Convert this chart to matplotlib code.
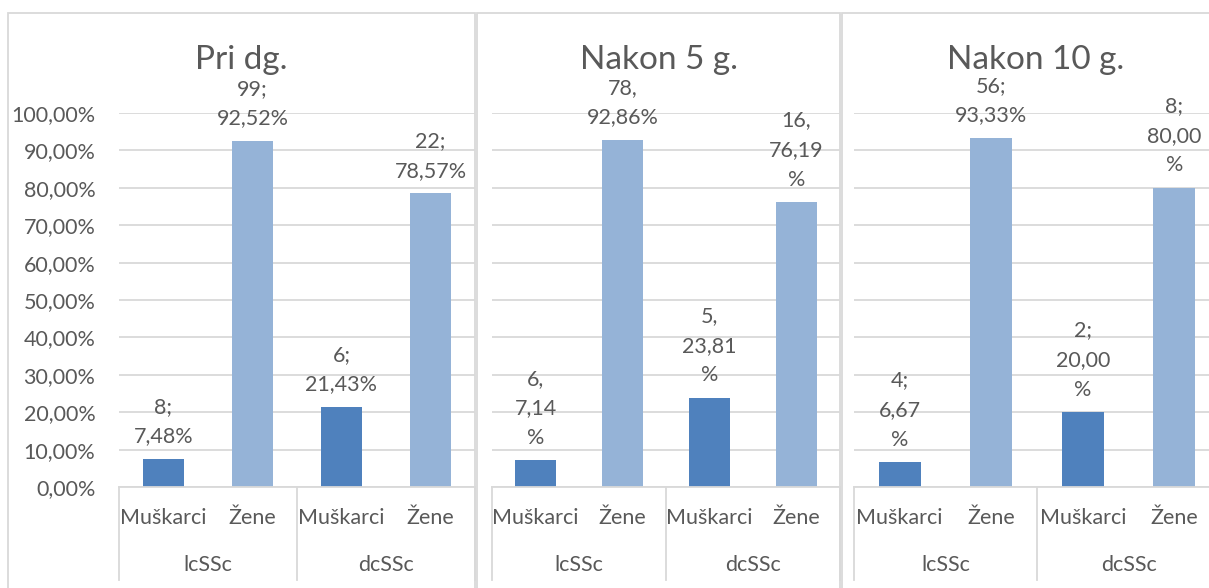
import matplotlib
matplotlib.use("Agg")
import matplotlib.pyplot as plt
from matplotlib.patches import Rectangle
from matplotlib.ticker import FuncFormatter, MultipleLocator

plt.rcParams['font.family'] = ['Lato', 'DejaVu Sans']

# ---- data ----
panel_titles = ["Pri dg.", "Nakon 5 g.", "Nakon 10 g."]
categories = ["Muškarci", "Žene", "Muškarci", "Žene"]
groups = ["lcSSc", "dcSSc"]
shares_dg = [7.48, 92.52, 21.43, 78.57]
shares_5g = [7.14, 92.86, 23.81, 76.19]
shares_10g = [6.67, 93.33, 20.00, 80.00]
counts_dg = [8, 99, 6, 22]
counts_5g = [6, 78, 5, 16]
counts_10g = [4, 56, 2, 8]
labels_dg = ["8;\n7,48%", "99;\n92,52%", "6;\n21,43%", "22;\n78,57%"]
labels_5g = ["6,\n7,14\n%", "78,\n92,86%", "5,\n23,81\n%", "16,\n76,19\n%"]
labels_10g = ["4;\n6,67\n%", "56;\n93,33%", "2;\n20,00\n%", "8;\n80,00\n%"]

shares = [shares_dg, shares_5g, shares_10g]
labels = [labels_dg, labels_5g, labels_10g]

# ---- style ----
W, H = 1209, 588
TXT = "#595959"
GRID = "#D9D9D9"
COL_M = "#4F81BD"
COL_Z = "#95B3D7"
bar_colors = [COL_M, COL_Z, COL_M, COL_Z]
FS = 15.5

fig = plt.figure(figsize=(W / 100, H / 100), dpi=100)

def fx(px):
    return px / W

def fy(py):
    return 1 - py / H

# panel frames (pixel coordinates)
frames = [(8, 475), (477, 840), (842, 1230)]
plot_x = [(119, 475), (492, 840), (854, 1220)]
plot_top, plot_bot = 113, 487
sep_bottom = 580

for (l, r) in frames:
    fig.patches.append(Rectangle((fx(l), fy(620)), fx(r - l), fy(13) - fy(620),
                                 transform=fig.transFigure, fill=False,
                                 edgecolor=GRID, linewidth=1.3, clip_on=False))

for p in range(3):
    l, r = plot_x[p]
    ax = fig.add_axes([fx(l), fy(plot_bot), fx(r - l), fy(plot_top) - fy(plot_bot)])
    ax.set_ylim(0, 1)
    ax.set_xlim(-0.5, 3.5)
    ax.set_facecolor("none")
    for s in ax.spines.values():
        s.set_visible(False)
    ax.yaxis.set_major_locator(MultipleLocator(0.1))
    ax.grid(axis='y', color=GRID, linewidth=1.3, zorder=0)
    ax.set_axisbelow(True)
    ax.set_xticks([])
    ax.tick_params(axis='y', length=0, pad=17, labelsize=FS, labelcolor=TXT)
    if p == 0:
        ax.yaxis.set_major_formatter(
            FuncFormatter(lambda v, _: f"{v * 100:.2f}%".replace('.', ',')))
    else:
        ax.set_yticklabels([])

    vals = [v / 100 for v in shares[p]]
    xs = list(range(len(categories)))
    ax.bar(xs, vals, width=0.46, color=bar_colors, zorder=3)

    for i, (v, lab) in enumerate(zip(vals, labels[p])):
        ax.annotate(lab, xy=(i, v), xytext=(0, 9), textcoords='offset points',
                    ha='center', va='bottom', fontsize=FS, color=TXT,
                    linespacing=1.6, annotation_clip=False, zorder=5)

    # category axis
    trans = ax.get_xaxis_transform()
    ax.plot([-0.5, 3.5], [0, 0], color=GRID, linewidth=1.3, transform=trans,
            clip_on=False, zorder=4)
    ybot = (plot_bot - sep_bottom) / (plot_bot - plot_top)
    for xv in [-0.5, 1.5, 3.5]:
        ax.plot([xv, xv], [0, ybot], color=GRID, linewidth=1.3,
                transform=trans, clip_on=False)
    y_cat = (plot_bot - 518) / (plot_bot - plot_top)
    y_grp = (plot_bot - 565) / (plot_bot - plot_top)
    for i, c in enumerate(categories):
        ax.text(i, y_cat, c, transform=trans, ha='center', va='center',
                fontsize=FS, color=TXT, clip_on=False)
    for g, gname in enumerate(groups):
        ax.text(2 * g + 0.5, y_grp, gname, transform=trans, ha='center',
                va='center', fontsize=FS, color=TXT, clip_on=False)

    fl, fr = frames[p]
    fig.text(fx((fl + fr) / 2), fy(69), panel_titles[p], ha='center',
             va='baseline', fontsize=24, color=TXT)

fig.savefig("out.png", dpi=100)
